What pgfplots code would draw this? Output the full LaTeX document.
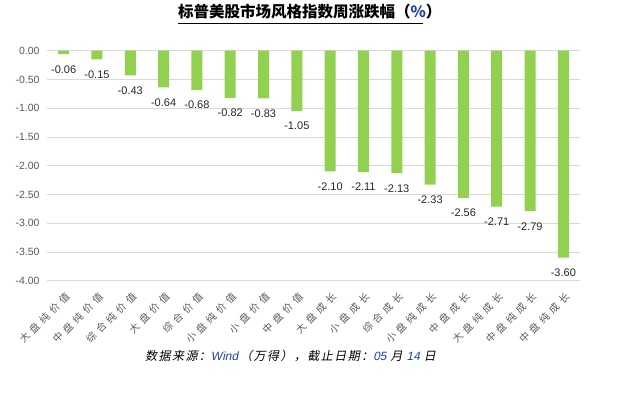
\documentclass[border=0pt]{standalone}
\usepackage{fontspec}
\usepackage{pgfplots}
\pgfplotsset{compat=1.18}
\setmainfont{Liberation Sans}
\newfontfamily\cjk{Noto Sans CJK SC}
\newfontfamily\cjksp{Noto Sans CJK SC}[LetterSpace=40]
\newfontfamily\cjkit{Noto Sans CJK SC}[FakeSlant=0.2, LetterSpace=12]
\newfontfamily\latit{Liberation Sans}[FakeSlant=0.2]
\definecolor{bargreen}{HTML}{92D050}
\definecolor{txtgray}{HTML}{595959}
\definecolor{gridgray}{HTML}{D9D9D9}
\definecolor{srcblue}{HTML}{1F3F9F}
\begin{document}
\begin{tikzpicture}[x=1pt,y=1pt]
\path (0,0) rectangle (632,395);
\begin{axis}[
  at={(47pt,114.3pt)}, anchor=south west,
  scale only axis, width=533pt, height=230pt,
  xmin=-0.5, xmax=15.5, ymin=-4, ymax=0,
  clip=false,
  axis line style={draw=none},
  major tick length=0pt,
  ymajorgrids, grid style={color=gridgray, line width=0.7pt},
  ytick={-4,-3.5,-3,-2.5,-2,-1.5,-1,-0.5,0},
  yticklabel style={font=\fontsize{10.5}{12}\selectfont, text=txtgray, xshift=-4pt,
    /pgf/number format/.cd, fixed, fixed zerofill, precision=2, assume math mode=true},
  xtick={0,...,15},
  xticklabels={大盘纯价值,中盘纯价值,综合纯价值,大盘价值,综合价值,小盘纯价值,小盘价值,中盘价值,大盘成长,小盘成长,综合成长,小盘纯成长,中盘成长,大盘纯成长,中盘纯成长,中盘纯成长},
  xticklabel style={xshift=5pt, yshift=-13pt, rotate=45, anchor=east, font=\cjksp\fontsize{10}{12}\selectfont, text=txtgray, inner sep=1pt},
  ybar, bar width=11pt,
  nodes near coords={\pgfmathprintnumber[fixed,fixed zerofill,precision=2,assume math mode=true]{\pgfplotspointmeta}},
  nodes near coords style={font=\fontsize{11}{13}\selectfont, text=black!85, anchor=north, inner sep=2pt, yshift=-9pt},
]
\addplot[fill=bargreen, draw=none] coordinates {
(0,-0.06) (1,-0.15) (2,-0.43) (3,-0.64) (4,-0.68) (5,-0.82) (6,-0.83) (7,-1.05)
(8,-2.10) (9,-2.11) (10,-2.13) (11,-2.33) (12,-2.56) (13,-2.71) (14,-2.79) (15,-3.60)};
\end{axis}
\node[inner sep=0pt, anchor=base west] (t) at (178,377) {\cjk\bfseries\fontsize{15.5}{18}\selectfont 标普美股市场风格指数周涨跌幅（\textcolor{srcblue}{\%}）};
\draw[line width=1pt] (178,371.5) -- (423,371.5);
\node[inner sep=0pt, anchor=base west] at (145,34) {\cjkit\fontsize{12}{14}\selectfont 数据来源：\textcolor{srcblue}{\latit Wind}\,（万得），截止日期：\textcolor{srcblue}{\latit 05}\hspace{4pt}月\hspace{4pt}\textcolor{srcblue}{\latit 14}\hspace{4pt}日};
\end{tikzpicture}
\end{document}
